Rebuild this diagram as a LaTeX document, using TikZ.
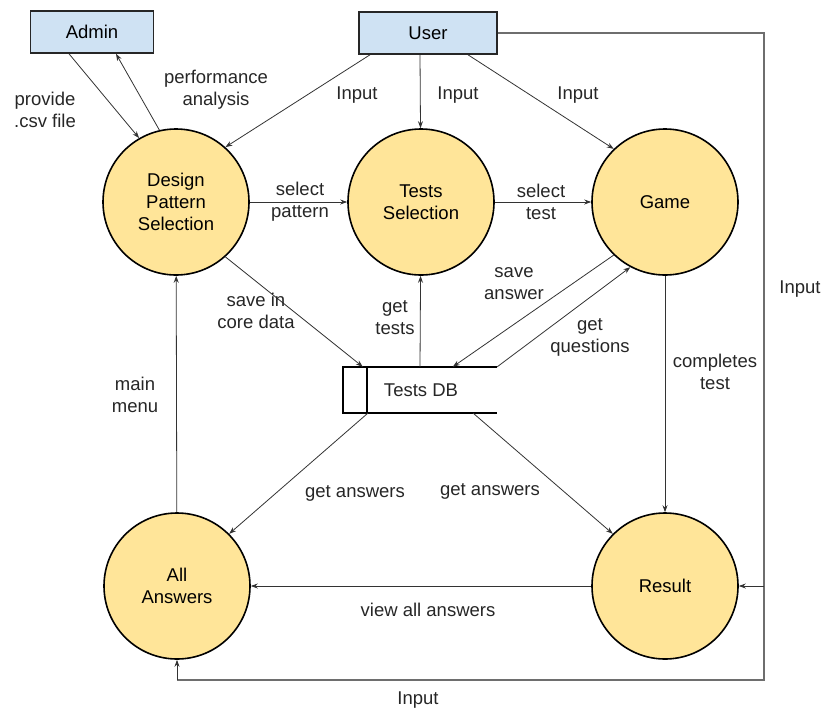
\documentclass[tikz,border=0pt]{standalone}
\usepackage{fontspec}
\setmainfont{Liberation Sans}
\usetikzlibrary{arrows.meta}
\definecolor{boxblue}{HTML}{CFE2F3}
\definecolor{circyellow}{HTML}{FFE599}
\definecolor{outergrey}{HTML}{6E6E6E}
\begin{document}
\begin{tikzpicture}[x=1pt,y=-1pt,
  font=\fontsize{18.5}{22}\selectfont,
  proc/.style={circle,draw=black,line width=1.6pt,fill=circyellow,minimum size=146pt,inner sep=0pt,align=center},
  ent/.style={rectangle,draw=black!85,line width=1.6pt,fill=boxblue,minimum width=123pt,minimum height=42pt,inner sep=0pt},
  flow/.style={draw=black!80,line width=0.8pt,-{Stealth[length=7pt,width=5pt]}},
  outer/.style={draw=outergrey,line width=1.3pt},
  lbl/.style={align=center,inner sep=0pt,text=black!85}]
\useasboundingbox (0,0) rectangle (824,710);
% entities
\node[ent] (admin) at (92,32) {Admin};
\node[ent,minimum width=138pt] (user) at (428,33) {User};
% processes
\node[proc] (dps) at (176,202) {Design\\Pattern\\Selection};
\node[proc] (ts) at (421,202) {Tests\\Selection};
\node[proc] (game) at (665,202) {Game};
\node[proc] (all) at (177,586) {All\\Answers};
\node[proc] (res) at (665,586) {Result};
% data store
\node[inner sep=0pt,minimum width=154pt,minimum height=46pt] (db) at (420,390) {};
\node[lbl] (dbt) at (421,390) {Tests DB};
\draw[line width=1.6pt] (db.north east) -- (db.north west) -- (db.south west) -- (db.south east);
\draw[line width=1.6pt] ([xshift=24pt]db.north west) -- ([xshift=24pt]db.south west);
% admin flows
\draw[flow] ([xshift=-23pt]admin.south) -- (dps.120);
\draw[flow] (dps.103) -- ([xshift=24pt]admin.south);
\node[lbl] (l1) at (45,110) {provide\\.csv file};
\node[lbl] (l2) at (216,90) {performance\\analysis};
% user flows
\draw[flow] ([xshift=-58pt]user.south) -- (dps.48);
\draw[flow] ([xshift=-8pt]user.south) -- (ts);
\draw[flow] ([xshift=40pt]user.south) -- (game.134);
\node[lbl] (i1) at (357,95) {Input};
\node[lbl] (i2) at (458,95) {Input};
\node[lbl] (i3) at (578,95) {Input};
% horizontal flows
\draw[flow] (dps) -- (ts);
\draw[flow] (ts) -- (game);
\node[lbl] (sp) at (300,202) {select\\pattern};
\node[lbl] (st) at (541,202) {select\\test};
% DB flows
\draw[flow] (dps.-48) -- ([xshift=20pt]db.north west);
\node[lbl] (sc) at (256,311) {save in\\core data};
\draw[flow] (db.north) -- (ts);
\node[lbl] (gt) at (395,318) {get\\tests};
\draw[flow] (game.-134) -- ([xshift=110pt]db.north west);
\node[lbl] (sa) at (514,284) {save\\answer};
\draw[flow] (db.north east) -- (game.-118);
\node[lbl] (gq) at (590,337) {get\\questions};
\draw[flow] (game) -- (res);
\node[lbl] (ct) at (715,372) {completes\\test};
\draw[flow] ([xshift=25pt]db.south west) -- (all.45);
\node[lbl] (ga1) at (355,493) {get answers};
\draw[flow] ([xshift=-24pt]db.south east) -- (res.135);
\node[lbl] (ga2) at (490,491) {get answers};
\draw[flow] (res) -- (all);
\node[lbl] (va) at (428,610) {view all answers};
\draw[flow] (all) -- (dps);
\node[lbl] (mm) at (135,395) {main\\menu};
% outer input loop
\coordinate (c1) at (764,33);
\coordinate (c2) at (764,680);
\coordinate (c3) at (177,680);
\coordinate (c4) at (764,586);
\draw[outer] (user.east) -- (c1) -- (c2) -- (c3);
\draw[flow] (c3) -- (all.south);
\draw[flow] (c4) -- (res.east);
\node[lbl] (ir) at (800,289) {Input};
\node[lbl] (ib) at (418,700) {Input};
\end{tikzpicture}
\end{document}
